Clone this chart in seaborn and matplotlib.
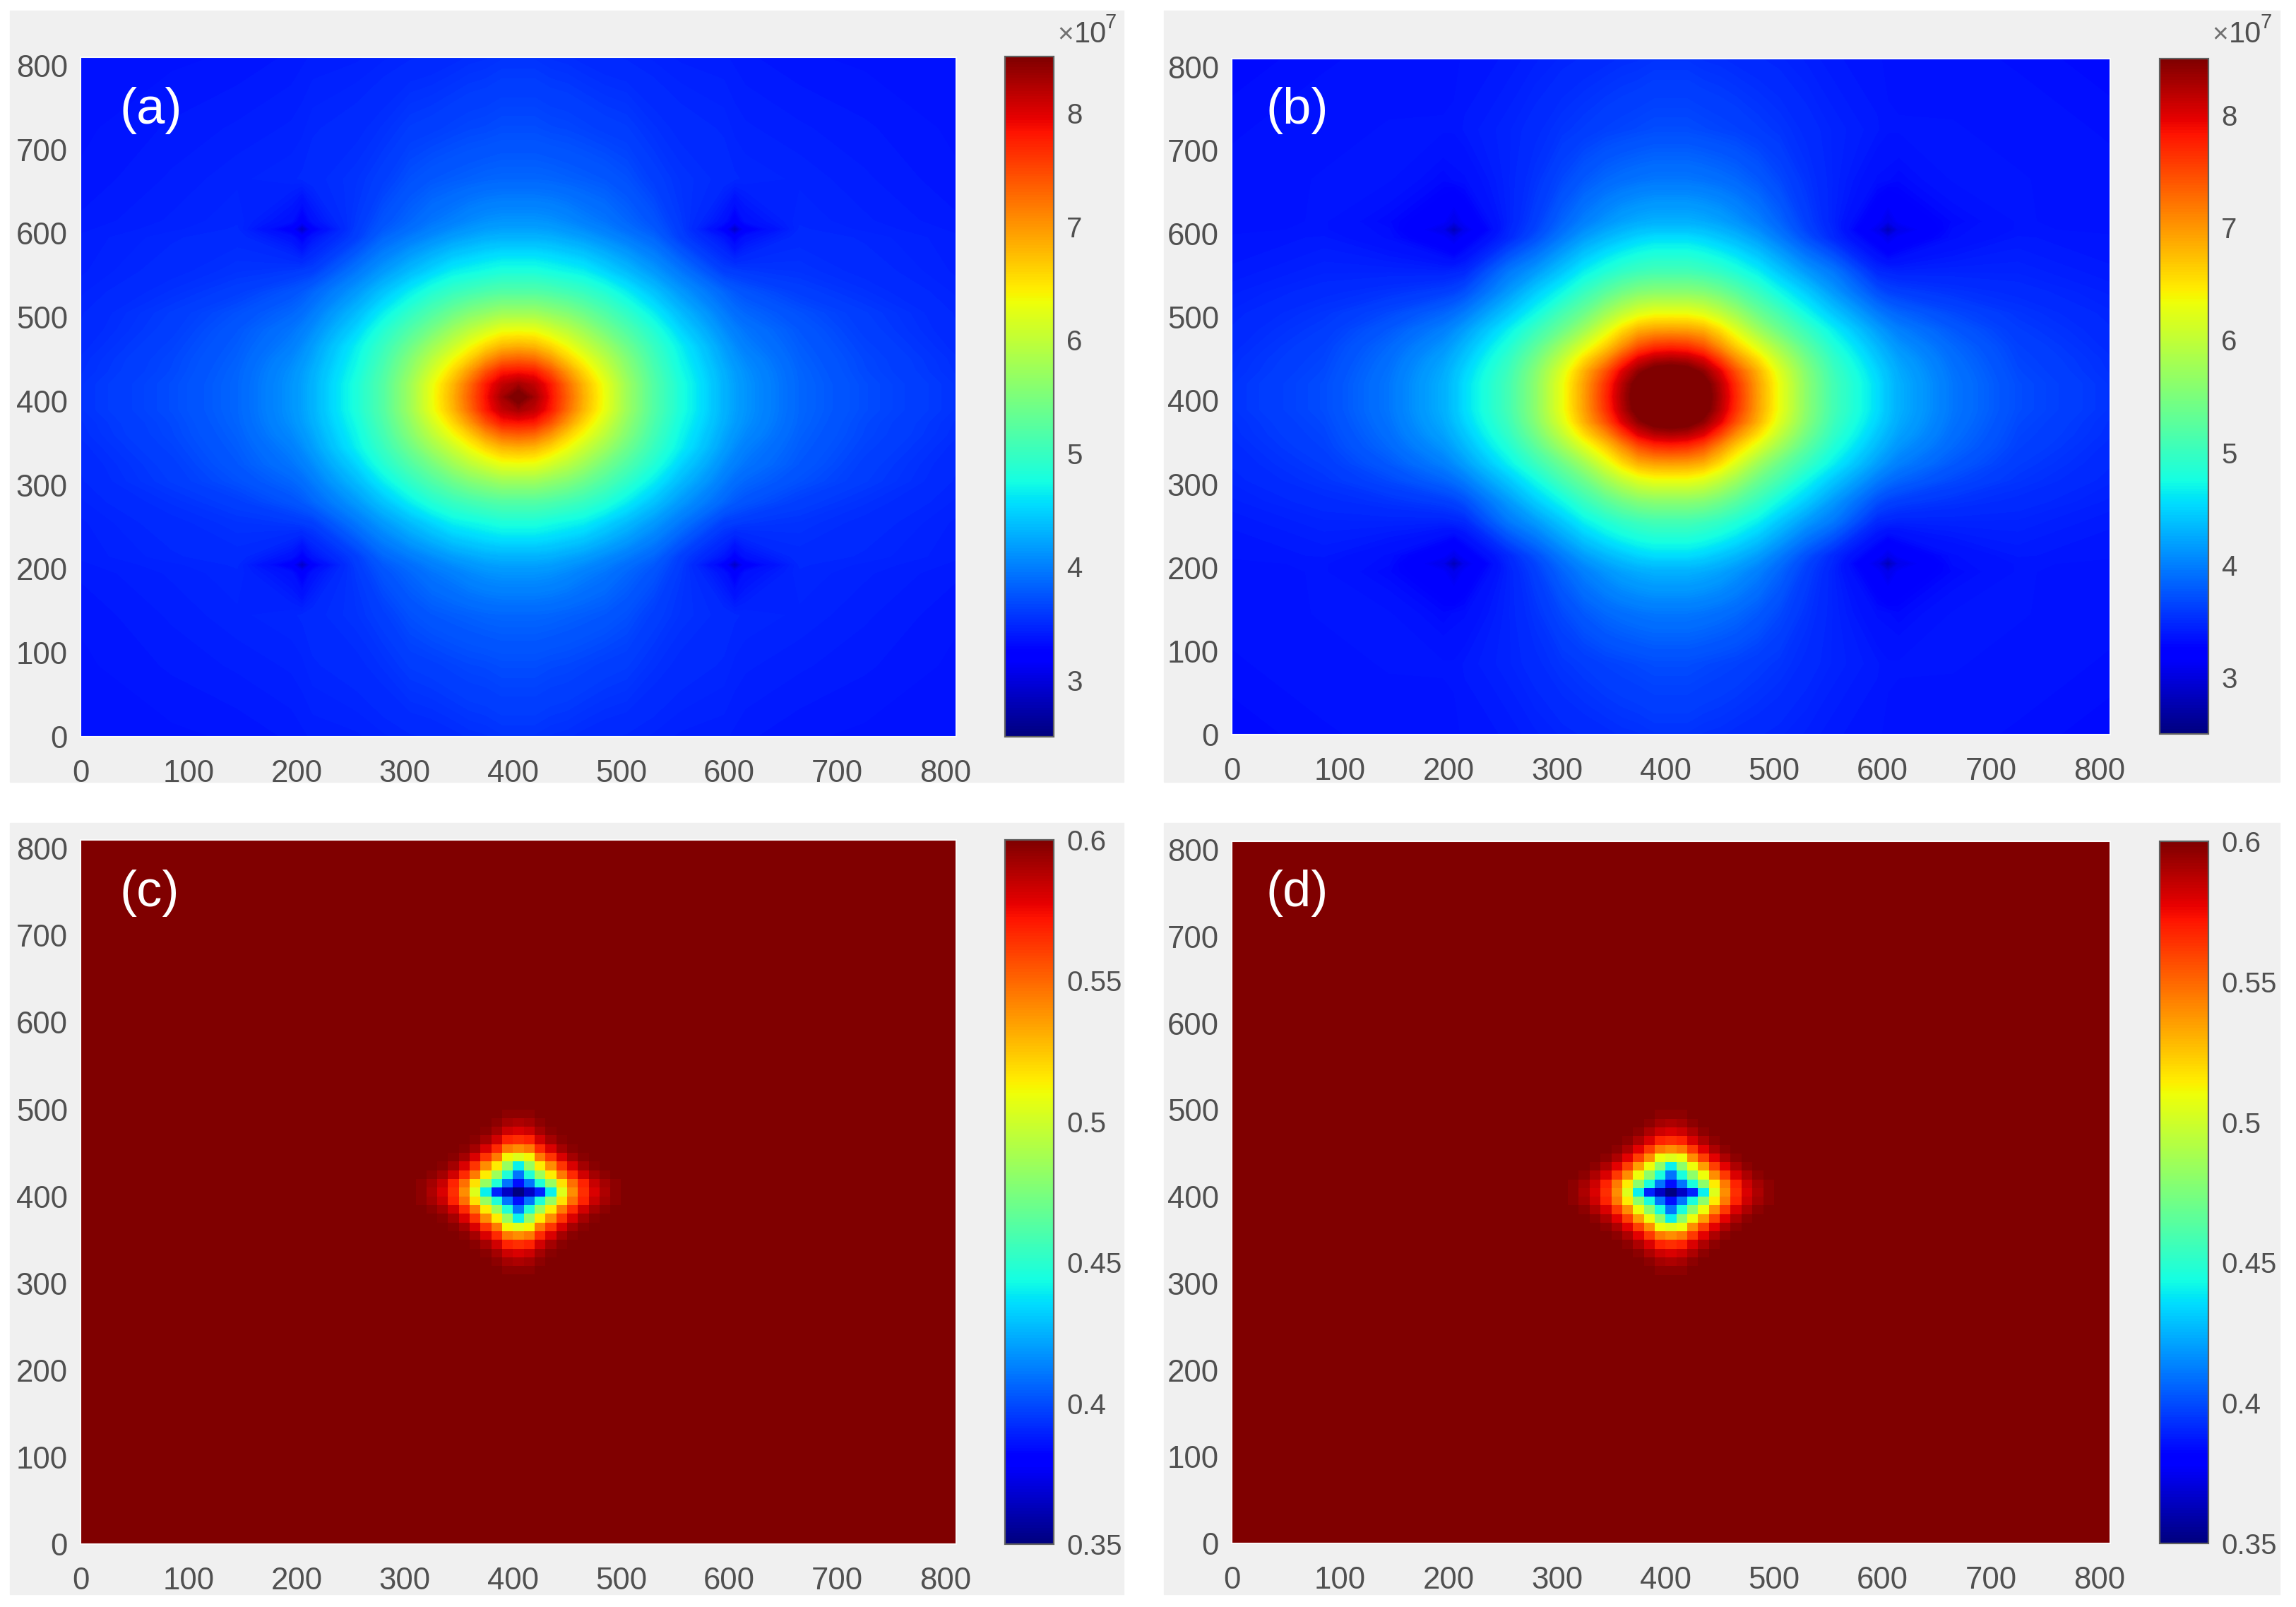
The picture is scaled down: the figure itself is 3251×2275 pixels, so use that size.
import numpy as np
import pandas as pd
import matplotlib
matplotlib.use("Agg")
import matplotlib.pyplot as plt
from matplotlib.cm import ScalarMappable
from matplotlib.colors import Normalize
from matplotlib.patches import Rectangle
import seaborn as sns

# ---- data -------------------------------------------------------------
TICKS = [0, 100, 200, 300, 400, 500, 600, 700, 800]
LIMIT = 810
CENTRE = 405
OFFSETS = [0, 15, 30, 45, 60, 80, 100, 125, 150, 190, 200, 210, 260, 320, 405]

FIELD_A = [
    [8.65, 8.3, 7.85, 7.35, 6.85, 6.3, 5.75, 5.2, 4.8, 4.3, 4.2, 4.12, 3.85, 3.7, 3.55],
    [8.3, 8.15, 7.8, 7.28, 6.8, 6.28, 5.75, 5.2, 4.8, 4.3, 4.2, 4.12, 3.85, 3.7, 3.55],
    [7.85, 7.8, 7.45, 7.0, 6.6, 6.12, 5.65, 5.15, 4.75, 4.28, 4.18, 4.1, 3.84, 3.68, 3.53],
    [7.35, 7.28, 7.0, 6.65, 6.35, 5.95, 5.55, 5.08, 4.7, 4.23, 4.13, 4.06, 3.82, 3.67, 3.52],
    [6.85, 6.8, 6.6, 6.35, 6.08, 5.75, 5.4, 5.0, 4.65, 4.18, 4.08, 4.0, 3.8, 3.65, 3.5],
    [6.3, 6.28, 6.12, 5.95, 5.75, 5.45, 5.18, 4.85, 4.5, 4.08, 4.0, 3.94, 3.77, 3.62, 3.48],
    [5.75, 5.75, 5.65, 5.55, 5.4, 5.18, 4.95, 4.65, 4.35, 3.98, 3.9, 3.85, 3.72, 3.6, 3.47],
    [5.2, 5.2, 5.15, 5.08, 5.0, 4.85, 4.65, 4.4, 4.15, 3.85, 3.78, 3.74, 3.62, 3.54, 3.45],
    [4.8, 4.8, 4.75, 4.7, 4.65, 4.5, 4.35, 4.15, 3.95, 3.62, 3.6, 3.58, 3.55, 3.5, 3.43],
    [4.3, 4.3, 4.28, 4.23, 4.18, 4.08, 3.98, 3.85, 3.62, 3.38, 3.24, 3.36, 3.5, 3.47, 3.42],
    [4.2, 4.2, 4.18, 4.13, 4.08, 4.0, 3.9, 3.78, 3.6, 3.24, 2.85, 3.22, 3.48, 3.45, 3.41],
    [4.12, 4.12, 4.1, 4.06, 4.0, 3.94, 3.85, 3.74, 3.58, 3.36, 3.22, 3.35, 3.47, 3.44, 3.4],
    [3.85, 3.85, 3.84, 3.82, 3.8, 3.77, 3.72, 3.62, 3.55, 3.5, 3.48, 3.47, 3.45, 3.42, 3.38],
    [3.7, 3.7, 3.68, 3.67, 3.65, 3.62, 3.6, 3.54, 3.5, 3.47, 3.45, 3.44, 3.42, 3.4, 3.37],
    [3.55, 3.55, 3.53, 3.52, 3.5, 3.48, 3.47, 3.45, 3.43, 3.42, 3.41, 3.4, 3.38, 3.37, 3.35],
]
FIELD_B = [
    [9.0, 9.0, 8.7, 8.25, 7.7, 6.95, 6.3, 5.6, 5.08, 4.55, 4.4, 4.28, 3.95, 3.7, 3.55],
    [9.0, 8.95, 8.65, 8.2, 7.65, 6.93, 6.3, 5.6, 5.08, 4.55, 4.4, 4.28, 3.95, 3.7, 3.55],
    [8.7, 8.65, 8.4, 8.0, 7.45, 6.83, 6.2, 5.55, 5.03, 4.5, 4.37, 4.25, 3.93, 3.68, 3.53],
    [8.25, 8.2, 8.0, 7.55, 7.05, 6.55, 6.0, 5.42, 4.95, 4.42, 4.3, 4.2, 3.9, 3.66, 3.52],
    [7.7, 7.65, 7.45, 7.05, 6.65, 6.2, 5.75, 5.25, 4.83, 4.33, 4.22, 4.12, 3.86, 3.64, 3.5],
    [6.95, 6.93, 6.83, 6.55, 6.2, 5.75, 5.38, 5.0, 4.65, 4.18, 4.08, 4.0, 3.78, 3.6, 3.48],
    [6.3, 6.3, 6.2, 6.0, 5.75, 5.38, 5.1, 4.72, 4.42, 3.98, 3.9, 3.84, 3.68, 3.56, 3.46],
    [5.6, 5.6, 5.55, 5.42, 5.25, 5.0, 4.72, 4.45, 4.15, 3.72, 3.65, 3.62, 3.55, 3.5, 3.43],
    [5.08, 5.08, 5.03, 4.95, 4.83, 4.65, 4.42, 4.15, 3.95, 3.48, 3.46, 3.44, 3.45, 3.45, 3.4],
    [4.55, 4.55, 4.5, 4.42, 4.33, 4.18, 3.98, 3.72, 3.48, 3.2, 3.08, 3.18, 3.33, 3.4, 3.38],
    [4.4, 4.4, 4.37, 4.3, 4.22, 4.08, 3.9, 3.65, 3.46, 3.08, 2.8, 3.06, 3.32, 3.38, 3.37],
    [4.28, 4.28, 4.25, 4.2, 4.12, 4.0, 3.84, 3.62, 3.44, 3.18, 3.06, 3.17, 3.3, 3.38, 3.36],
    [3.95, 3.95, 3.93, 3.9, 3.86, 3.78, 3.68, 3.55, 3.45, 3.33, 3.32, 3.3, 3.38, 3.38, 3.35],
    [3.7, 3.7, 3.68, 3.66, 3.64, 3.6, 3.56, 3.5, 3.45, 3.4, 3.38, 3.38, 3.38, 3.36, 3.33],
    [3.55, 3.55, 3.53, 3.52, 3.5, 3.48, 3.46, 3.43, 3.4, 3.38, 3.37, 3.36, 3.35, 3.33, 3.3],
]
# centres of (c) and (d): one quadrant of the 10-unit cells, 0.6 everywhere else
CORE_C = [
    [.35, .365, .39, .44, .505, .54, .565, .58, .59, .597],
    [.385, .41, .447, .483, .517, .548, .568, .584, .592, .597],
    [.41, .447, .485, .515, .545, .566, .582, .592, .597, .6],
    [.44, .483, .515, .54, .563, .58, .592, .598, .6, .6],
    [.505, .512, .545, .563, .58, .592, .598, .6, .6, .6],
    [.54, .545, .566, .58, .592, .598, .6, .6, .6, .6],
    [.565, .568, .582, .592, .598, .6, .6, .6, .6, .6],
    [.58, .583, .592, .598, .6, .6, .6, .6, .6, .6],
    [.59, .592, .597, .6, .6, .6, .6, .6, .6, .6],
    [.597, .597, .6, .6, .6, .6, .6, .6, .6, .6],
]
CORE_D = [
    [.35, .365, .39, .44, .505, .54, .565, .58, .59, .597],
    [.385, .41, .445, .48, .515, .545, .568, .583, .592, .597],
    [.41, .445, .48, .51, .54, .562, .58, .59, .597, .6],
    [.44, .48, .51, .535, .56, .578, .59, .597, .6, .6],
    [.505, .51, .54, .56, .578, .59, .597, .6, .6, .6],
    [.54, .545, .562, .578, .59, .597, .6, .6, .6, .6],
    [.565, .568, .58, .59, .597, .6, .6, .6, .6, .6],
    [.58, .583, .59, .597, .6, .6, .6, .6, .6, .6],
    [.59, .592, .597, .6, .6, .6, .6, .6, .6, .6],
    [.597, .597, .6, .6, .6, .6, .6, .6, .6, .6],
]
CB_TICKS_AB = [3, 4, 5, 6, 7, 8]
CB_TICKS_CD = [0.35, 0.4, 0.45, 0.5, 0.55, 0.6]
CB_LABELS_CD = ["0.35", "0.4", "0.45", "0.5", "0.55", "0.6"]

# ---- look --------------------------------------------------------------
W, H = 3251, 2275
INK = "#505050"
GREY = "#f0f0f0"
TICK_SIZE = 31.5
CB_SIZE = 29

sns.set_theme(style="white")
plt.rcParams["font.family"] = ["Liberation Sans", "DejaVu Sans"]

fig = plt.figure(figsize=(W / 100, H / 100), dpi=100, facecolor="white")


def box(left, top, right, bottom):
    return [left / W, 1 - bottom / H, (right - left) / W, (bottom - top) / H]


def label(x, y, s, **kw):
    fig.text(x / W, 1 - y / H, s, **kw)


for l, t, r, b in [(14, 15, 1591, 1107), (1648, 15, 3228, 1107),
                   (14, 1165, 1591, 2257), (1648, 1165, 3228, 2257)]:
    fig.add_artist(Rectangle((l / W, 1 - b / H), (r - l) / W, (b - t) / H,
                             transform=fig.transFigure, color=GREY, zorder=-5))


def finish(ax, cax, cbar, cb_ticks, cb_labels, scale):
    ax.set_xticks([v * scale for v in TICKS], [str(v) for v in TICKS])
    ax.set_yticks([v * scale for v in TICKS], [str(v) for v in TICKS], rotation=0)
    ax.set_xlim(0, LIMIT * scale)
    ax.set_ylim(0, LIMIT * scale)
    ax.tick_params(axis="x", length=0, pad=23, labelsize=TICK_SIZE, labelcolor=INK,
                   bottom=True, labelbottom=True)
    ax.tick_params(axis="y", length=0, pad=13, labelsize=TICK_SIZE, labelcolor=INK,
                   left=True, labelleft=True)
    ax.set_xlabel("")
    ax.set_ylabel("")
    for spine in ax.spines.values():
        spine.set_visible(True)
        spine.set_color("#fafafa")
        spine.set_linewidth(1.5)
    cbar.set_ticks(cb_ticks, labels=cb_labels)
    cax.tick_params(axis="y", which="both", right=True, direction="in", length=6, width=1.2,
                    color="#403030", pad=13, labelsize=CB_SIZE, labelcolor=INK)
    cbar.outline.set_visible(True)
    cbar.outline.set_edgecolor("#606060")
    cbar.outline.set_linewidth(1.6)


def smooth_panel(field, ax_box, cb_box):
    ax = fig.add_axes(box(*ax_box))
    cax = fig.add_axes(box(*cb_box))
    half = np.array(field)
    z = np.vstack([half[:0:-1], half])
    z = np.hstack([z[:, :0:-1], z])
    off = np.array(OFFSETS)
    xy = np.concatenate([CENTRE - off[:0:-1], CENTRE + off])
    norm = Normalize(2.5, 8.5)
    ax.contourf(xy, xy, z, levels=np.linspace(2.5, 9.05, 330), cmap="jet", norm=norm,
                antialiased=False)
    cbar = fig.colorbar(ScalarMappable(norm=norm, cmap="jet"), cax=cax)
    finish(ax, cax, cbar, CB_TICKS_AB, [str(v) for v in CB_TICKS_AB], 1)


def core_panel(core, ax_box, cb_box):
    ax = fig.add_axes(box(*ax_box))
    cax = fig.add_axes(box(*cb_box))
    grid = np.full((81, 81), 0.6)
    q = np.array(core)
    for j in range(q.shape[0]):
        for i in range(q.shape[1]):
            for sy in (-1, 1):
                for sx in (-1, 1):
                    grid[40 + sy * j, 40 + sx * i] = q[j, i]
    sns.heatmap(pd.DataFrame(grid), ax=ax, cbar_ax=cax, cmap="jet", vmin=0.35, vmax=0.6,
                xticklabels=False, yticklabels=False, rasterized=True)
    cbar = ax.collections[0].colorbar
    # the reference's cells are soft: the cells are resampled smoothly on top
    ax.imshow(grid, extent=(0, 81, 0, 81), origin="lower", aspect="auto", cmap="jet",
              vmin=0.35, vmax=0.6, interpolation="bicubic", interpolation_stage="rgba")
    finish(ax, cax, cbar, CB_TICKS_CD, CB_LABELS_CD, 0.1)


smooth_panel(FIELD_A, (114, 81, 1354, 1043), (1423, 80, 1492, 1043))
smooth_panel(FIELD_B, (1744, 83, 2988, 1040), (3058, 83, 3127, 1039))
core_panel(CORE_C, (114, 1189, 1354, 2186), (1423, 1189, 1492, 2186))
core_panel(CORE_D, (1744, 1191, 2988, 2185), (3058, 1191, 3127, 2185))

for x, y, s in [(170, 157, "(a)"), (1793, 157, "(b)"), (170, 1265, "(c)"), (1793, 1265, "(d)")]:
    label(x, y, s, color="white", fontsize=52, ha="left", va="center", zorder=10)

for x in (1497, 3132):
    label(x, 60, "\u00d7", color="#707070", fontsize=28, ha="left", va="baseline")
    label(x + 24, 60, "10", color=INK, fontsize=30, ha="left", va="baseline")
    label(x + 68, 40, "7", color=INK, fontsize=21, ha="left", va="baseline")

fig.savefig("out.png", dpi=100, facecolor="white")
